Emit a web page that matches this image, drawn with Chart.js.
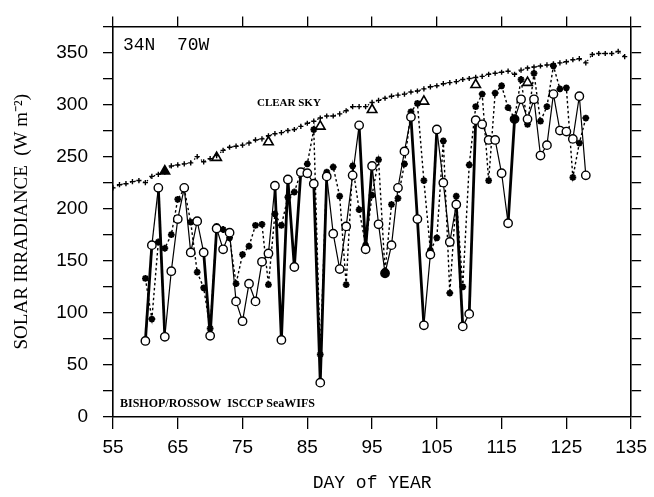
<!DOCTYPE html>
<html>
<head>
<meta charset="utf-8">
<title>Solar irradiance 34N 70W</title>
<script src="https://cdn.jsdelivr.net/npm/chart.js@4.4.1/dist/chart.umd.min.js"></script>
<style>
  html, body { margin: 0; padding: 0; background: #fff; }
  #wrap { width: 654px; height: 497px; }
</style>
</head>
<body>
<div id="wrap"><canvas id="chart" width="654" height="497"></canvas></div>
<script>
// clear-sky irradiance, one value per day
const clearDays = [55, 56, 57, 58, 59, 60, 61, 62, 63, 64, 65, 66, 67, 68, 69, 70, 71, 72, 73, 74,
  75, 76, 77, 78, 79, 80, 81, 82, 83, 84, 85, 86, 87, 88, 89, 90, 91, 92, 93, 94,
  95, 96, 97, 98, 99, 100, 101, 102, 103, 104, 105, 106, 107, 108, 109, 110, 111, 112, 113, 114,
  115, 116, 117, 118, 119, 120, 121, 122, 123, 124, 125, 126, 127, 128, 129, 130, 131, 132, 133, 134];
const clearSky = [220, 223, 224, 226, 227, 225, 231, 233, 235, 241, 242, 243, 244, 250, 245, 248, 251, 256, 259, 260,
  261, 263, 266, 267, 270, 272, 273, 275, 276, 279, 282, 284, 287, 289, 289, 291, 294, 298, 298, 298,
  302, 304, 306, 308, 309, 310, 312, 313, 315, 317, 318, 320, 321, 322, 324, 325, 326, 327, 329, 330,
  331, 332, 329, 333, 335, 336, 337, 338, 339, 340, 341, 343, 344, 340, 348, 349, 349, 349, 351, 346];

// daily series, days 60-128
const days = [60, 61, 62, 63, 64, 65, 66, 67, 68, 69, 70, 71, 72, 73, 74, 75, 76, 77, 78, 79,
  80, 81, 82, 83, 84, 85, 86, 87, 88, 89, 90, 91, 92, 93, 94, 95, 96, 97, 98, 99,
  100, 101, 102, 103, 104, 105, 106, 107, 108, 109, 110, 111, 112, 113, 114, 115, 116, 117, 118, 119,
  120, 121, 122, 123, 124, 125, 126, 127, 128];
const seawifs = [73, 165, 220, 77, 140, 190, 220, 158, 188, 158, 78, 181, 161, 177, 111, 92, 128, 111, 149, 157,
  222, 74, 228, 144, 235, 234, 224, 33, 231, 176, 142, 183, 232, 280, 161, 241, 185, 138, 165, 220,
  255, 288, 190, 88, 156, 276, 225, 168, 204, 87, 99, 285, 281, 266, 266, 234, 186, 286, 305, 286,
  305, 251, 261, 310, 275, 274, 267, 308, 232];
const isccp = [133, 94, 168, 162, 175, 209, 219, 187, 139, 124, 85, 183, 180, 172, 128, 156, 164, 184, 185, 127,
  195, 184, 211, 216, 235, 243, 276, 60, 235, 240, 212, 127, 241, 199, 165, 213, 247, 140, 204, 210,
  243, 293, 301, 227, 160, 172, 265, 119, 212, 125, 242, 298, 310, 227, 311, 318, 297, 287, 324, 281,
  330, 284, 298, 337, 315, 316, 230, 263, 287];
const filledDays = [97, 117];

// 8-day composites
const bishopDays = [63, 71, 79, 87, 95, 103, 111, 119];
const bishop = [236, 249, 264, 279, 295, 303, 319, 321];

const xTicks = [55, 65, 75, 85, 95, 105, 115, 125, 135];
const yLabelStep = 50;

const pts = (xs, ys) => xs.map((x, i) => ({ x: x, y: ys[i] }));

const tickFont = { family: "Liberation Sans", size: 19 };
const gridOpts = {
  drawOnChartArea: false,
  drawTicks: true,
  tickLength: 10,
  color: "#000",
  tickColor: "#000",
  lineWidth: 1.3
};
const borderOpts = { display: true, color: "#000", width: 1.6 };

const labels = {
  id: "labels",
  afterDraw(chart) {
    const { ctx, chartArea } = chart;
    ctx.save();
    ctx.fillStyle = "#000";
    ctx.textBaseline = "middle";
    ctx.textAlign = "left";
    ctx.font = "18px 'Liberation Mono'";
    ctx.fillText("34N  70W", chartArea.left + 10, chartArea.top + 19);
    ctx.font = "bold 11px 'Liberation Serif'";
    ctx.fillText("CLEAR SKY", chartArea.left + 144, chartArea.top + 77);
    ctx.font = "bold 12px 'Liberation Serif'";
    ctx.fillText("BISHOP/ROSSOW  ISCCP SeaWIFS", chartArea.left + 7, chartArea.bottom - 13);
    ctx.restore();
  }
};

new Chart(document.getElementById("chart"), {
  type: "line",
  data: {
    datasets: [
      {
        label: "SeaWIFS",
        data: pts(days, seawifs),
        borderColor: "#000",
        borderWidth: 1.2,
        segment: {
          borderWidth: ctx => Math.abs(ctx.p1.parsed.y - ctx.p0.parsed.y) >= 80 ? 2.8 : 1.2
        },
        pointStyle: "circle",
        pointRadius: 4.2,
        pointBorderWidth: 1.4,
        pointBorderColor: "#000",
        pointBackgroundColor: days.map(d => filledDays.includes(d) ? "#000" : "#fff"),
        tension: 0
      },
      {
        label: "ISCCP",
        data: pts(days, isccp),
        borderColor: "#000",
        borderWidth: 1.4,
        borderDash: [2.5, 2.5],
        pointStyle: "star",
        pointRadius: 3.4,
        pointBorderWidth: 2,
        pointBorderColor: "#000",
        pointBackgroundColor: "#000",
        tension: 0
      },
      {
        label: "Clear sky",
        data: pts(clearDays, clearSky),
        borderColor: "#000",
        borderWidth: 1.2,
        borderDash: [1.5, 3],
        pointStyle: "cross",
        pointRadius: 2.6,
        pointBorderWidth: 1.4,
        pointBorderColor: "#000",
        tension: 0
      },
      {
        label: "Bishop/Rossow",
        data: pts(bishopDays, bishop),
        showLine: false,
        pointStyle: "triangle",
        pointRadius: 5.5,
        pointBorderWidth: 1.6,
        pointBorderColor: "#000",
        pointBackgroundColor: bishopDays.map((d, i) => i === 0 ? "#000" : "#fff")
      }
    ]
  },
  options: {
    responsive: false,
    animation: false,
    layout: { padding: 0 },
    plugins: { legend: { display: false }, tooltip: { enabled: false } },
    scales: {
      x: {
        type: "linear",
        position: "bottom",
        min: 55,
        max: 135,
        afterBuildTicks: s => { s.ticks = xTicks.map(v => ({ value: v })); },
        afterFit: s => { s.height = 80; },
        ticks: { color: "#000", font: tickFont, padding: 7, maxRotation: 0, autoSkip: false },
        grid: { ...gridOpts, tickLength: 12 },
        border: borderOpts,
        title: {
          display: true,
          text: "DAY of YEAR",
          color: "#000",
          font: { family: "Liberation Mono", size: 18 },
          padding: { top: 0, bottom: 3 }
        }
      },
      x2: {
        type: "linear",
        position: "top",
        min: 55,
        max: 135,
        afterBuildTicks: s => { s.ticks = xTicks.map(v => ({ value: v })); },
        afterFit: s => { s.height = 23; },
        ticks: { display: false },
        grid: gridOpts,
        border: borderOpts
      },
      y: {
        type: "linear",
        position: "left",
        min: 0,
        max: 375,
        afterFit: s => { s.width = 113; },
        ticks: {
          stepSize: 25,
          color: "#000",
          font: tickFont,
          padding: 15,
          callback: v => v % yLabelStep === 0 ? v : ""
        },
        grid: gridOpts,
        border: borderOpts,
        title: {
          display: true,
          text: "SOLAR IRRADIANCE  (W m\u207B\u00B2)",
          color: "#000",
          font: { family: "Liberation Serif", size: 19 },
          padding: { top: 11, bottom: 0 }
        }
      },
      y2: {
        type: "linear",
        position: "right",
        min: 0,
        max: 375,
        afterFit: s => { s.width = 17; },
        ticks: { stepSize: 25, display: false },
        grid: gridOpts,
        border: borderOpts
      }
    }
  },
  plugins: [labels]
});
</script>
</body>
</html>
